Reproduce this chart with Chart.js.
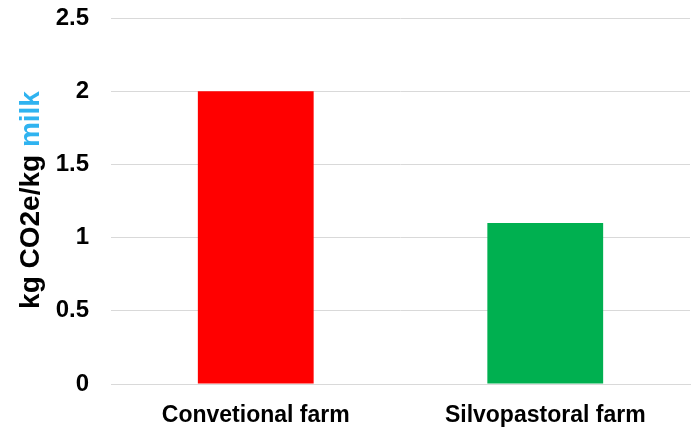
<!DOCTYPE html>
<html>
<head>
<meta charset="utf-8">
<script src="https://cdn.jsdelivr.net/npm/chart.js@4"></script>
<style>
  html, body { margin: 0; padding: 0; background: #fff; }
  #wrap { width: 697px; height: 433px; position: relative; }
</style>
</head>
<body>
<div id="wrap"><canvas id="chart"></canvas></div>
<script>
const categories = ['Convetional farm', 'Silvopastoral farm'];
const emissions = [2.0, 1.1];
const barColors = ['#FF0000', '#00B050'];
const yTitleParts = [
    { text: 'kg CO2e/kg ', color: '#000000' },
    { text: 'milk', color: '#2FB3F0' }
];

const fontFamily = '"Liberation Sans", Arial, sans-serif';

// y axis title has two colours, so draw it by hand
const yTitlePlugin = {
    id: 'yTitle',
    afterDraw(chart) {
        const ctx = chart.ctx;
        ctx.save();
        ctx.font = 'bold 28px ' + fontFamily;
        let total = 0;
        yTitleParts.forEach(p => { total += ctx.measureText(p.text).width; });
        const midY = 200;
        ctx.translate(39, midY);
        ctx.rotate(-Math.PI / 2);
        ctx.textBaseline = 'alphabetic';
        ctx.textAlign = 'left';
        let x = -total / 2;
        yTitleParts.forEach(p => {
            ctx.fillStyle = p.color;
            ctx.fillText(p.text, x, 0);
            x += ctx.measureText(p.text).width;
        });
        ctx.restore();
    }
};

const ctx = document.getElementById('chart').getContext('2d');
new Chart(ctx, {
    type: 'bar',
    data: {
        labels: categories,
        datasets: [{
            data: emissions,
            backgroundColor: barColors,
            barPercentage: 0.4,
            categoryPercentage: 1.0
        }]
    },
    options: {
        responsive: true,
        maintainAspectRatio: false,
        animation: false,
        layout: { padding: { left: 0, right: 7, top: 18, bottom: 0 } },
        plugins: {
            legend: { display: false },
            tooltip: { enabled: false }
        },
        scales: {
            x: {
                grid: { display: false, drawTicks: false },
                border: { display: true, color: '#d9d9d9', width: 1 },
                ticks: {
                    color: '#000',
                    padding: 18,
                    maxRotation: 0,
                    font: { family: fontFamily, size: 23, weight: 'bold' }
                },
                afterFit(scale) {
                    scale.height = 49;
                    scale.paddingLeft = 0;
                    scale.paddingRight = 0;
                }
            },
            y: {
                min: 0,
                max: 2.5,
                grid: { color: '#d9d9d9', lineWidth: 1, drawTicks: false },
                border: { display: false },
                ticks: {
                    stepSize: 0.5,
                    color: '#000',
                    padding: 22,
                    font: { family: fontFamily, size: 24, weight: 'bold' },
                    callback: value => String(value)
                },
                afterFit(scale) {
                    scale.width = 111;
                    scale.paddingTop = 0;
                    scale.paddingBottom = 0;
                }
            }
        }
    },
    plugins: [yTitlePlugin]
});
</script>
</body>
</html>
